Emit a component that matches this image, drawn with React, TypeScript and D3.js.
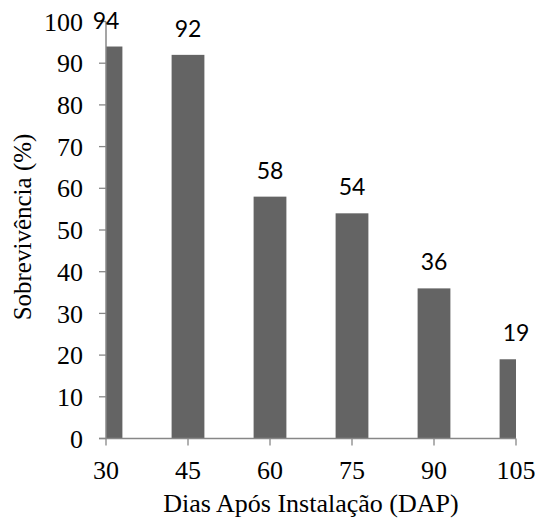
import React from "react";
import * as d3 from "d3";

const categories = ["30", "45", "60", "75", "90", "105"];
const values = [94, 92, 58, 54, 36, 19];
const yTicks = [0, 10, 20, 30, 40, 50, 60, 70, 80, 90, 100];

const W = 535;
const H = 519;
const left = 106;
const right = 516;
const top = 21.5;
const bottom = 438.5;

export default function App() {
  const x = d3.scalePoint<string>().domain(categories).range([left, right]);
  const y = d3.scaleLinear().domain([0, 100]).range([bottom, top]);
  const bw = x.step() * 0.4;
  const axisColor = "#878787";
  const serif = "'Liberation Serif', 'Times New Roman', serif";
  const sans = "Lato, 'Open Sans', sans-serif";
  return (
    <svg
      width={W}
      height={H}
      style={{ position: "absolute", left: 0, top: 0, background: "#fff" }}
    >
      <defs>
        <clipPath id="plot">
          <rect x={left} y={0} width={right - left} height={bottom} />
        </clipPath>
      </defs>
      <g clipPath="url(#plot)">
        {values.map((v, i) => (
          <rect
            key={i}
            x={(x(categories[i]) as number) - bw / 2}
            y={y(v)}
            width={bw}
            height={y(0) - y(v)}
            fill="#646464"
          />
        ))}
      </g>
      {/* y axis */}
      <line x1={left} x2={left} y1={top} y2={bottom} stroke={axisColor} strokeWidth={1.5} />
      {yTicks.map((t) => (
        <g key={t}>
          <line x1={left - 7} x2={left} y1={y(t)} y2={y(t)} stroke={axisColor} strokeWidth={1.3} />
          <text
            x={83}
            y={y(t)}
            dy="0.35em"
            textAnchor="end"
            fontFamily={serif}
            fontSize={26}
            fill="#000"
          >
            {t}
          </text>
        </g>
      ))}
      {/* x axis */}
      <line x1={left - 7} x2={right} y1={bottom} y2={bottom} stroke={axisColor} strokeWidth={1.5} />
      {categories.map((c) => (
        <g key={c}>
          <line x1={x(c)} x2={x(c)} y1={bottom} y2={bottom + 7} stroke={axisColor} strokeWidth={1.3} />
          <text
            x={x(c)}
            y={479}
            textAnchor="middle"
            fontFamily={serif}
            fontSize={26}
            fill="#000"
          >
            {c}
          </text>
        </g>
      ))}
      {/* data labels */}
      {values.map((v, i) => (
        <text
          key={"l" + i}
          x={x(categories[i])}
          y={y(v) - 18}
          textAnchor="middle"
          fontFamily={sans}
          fontSize={23}
          fill="#000"
        >
          {v}
        </text>
      ))}
      {/* axis titles */}
      <text
        x={(left + right) / 2}
        y={512}
        textAnchor="middle"
        fontFamily={serif}
        fontSize={26}
        fill="#000"
      >
        Dias Após Instalação (DAP)
      </text>
      <text
        transform={`translate(31, 227) rotate(-90)`}
        textAnchor="middle"
        fontFamily={serif}
        fontSize={25}
        fill="#000"
      >
        Sobrevivência (%)
      </text>
    </svg>
  );
}
